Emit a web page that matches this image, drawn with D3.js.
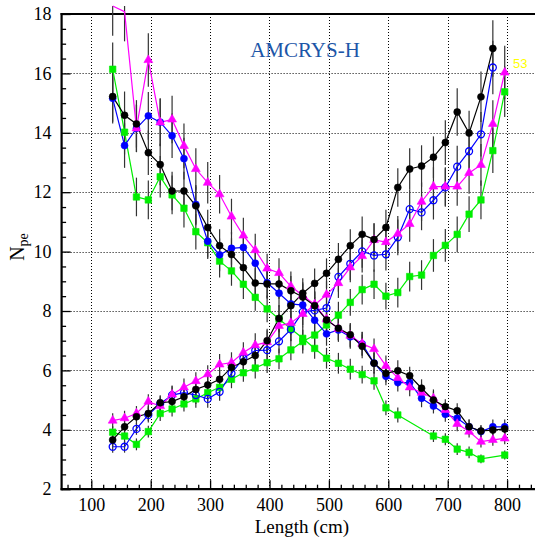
<!DOCTYPE html>
<html><head><meta charset="utf-8">
<script src="https://cdn.jsdelivr.net/npm/d3@7/dist/d3.min.js"></script>
<style>
body{margin:0;background:#fff;} svg{display:block;}
.serif{font-family:"Liberation Serif","Tinos","Times New Roman","DejaVu Serif",serif;}
.sans{font-family:"Liberation Sans","Arimo",Arial,sans-serif;}
</style>
</head><body>
<svg id="c" width="535" height="541"></svg>
<script>
// ---------- data ----------
const lengths = [136,156,176,196,216,236,256,276,296,316,336,356,376,396,416,436,456,476,496,516,536,556,576,596,616,636,656,676,696,716,736,756,776,796];

const blackDec = [15.22,14.59,14.30,13.33,12.93,12.04,12.04,11.54,10.81,10.20,9.90,9.46,8.94,8.91,8.91,8.68,8.47,8.18,7.70,7.42,7.20,6.81,6.24,5.90,5.99,5.82,5.40,5.00,4.78,4.64,4.10,3.96,3.99,4.03];
const blackInc = [3.66,4.10,4.44,4.55,4.91,4.95,5.11,5.36,5.51,5.70,6.10,6.29,6.50,7.00,7.75,8.18,8.60,8.93,9.27,9.74,10.20,10.58,10.41,10.81,12.16,12.78,12.88,13.18,13.67,14.70,13.99,15.21,16.84,null];
const blueDec = [15.16,13.57,14.15,14.57,14.36,13.90,13.13,11.59,10.35,9.89,10.11,10.14,9.61,8.95,8.60,8.24,8.20,7.69,7.23,7.36,7.13,6.89,6.25,5.80,5.59,5.59,5.06,4.80,4.52,4.39,4.10,3.94,4.10,4.10];
const blueInc = [3.43,3.43,4.03,4.50,4.88,5.17,5.25,5.17,5.04,5.28,5.90,6.41,6.67,6.68,6.98,7.38,7.97,8.02,8.10,9.15,9.59,10.01,9.87,9.91,10.48,11.43,11.32,11.73,12.16,12.86,13.38,13.95,16.20,null];
const magentaDec = [18.27,18.08,14.15,16.45,14.35,14.45,13.56,12.78,12.32,11.93,11.18,10.54,10.05,9.43,9.28,8.83,8.52,8.22,7.72,7.40,7.17,6.90,6.72,6.15,5.75,5.43,5.25,5.06,4.67,4.20,3.94,3.60,3.66,3.71];
const magentaInc = [4.31,4.39,4.55,4.95,4.80,5.19,5.43,5.64,5.87,6.20,6.26,6.60,6.85,6.95,7.50,7.60,7.90,8.20,8.55,8.94,9.47,9.85,10.39,10.32,10.60,10.93,11.68,12.19,12.19,12.19,12.65,12.92,14.30,16.03];
const greenDec = [16.14,14.02,11.84,11.74,12.52,11.91,11.46,10.67,10.30,9.68,9.35,8.90,8.46,8.07,7.73,7.40,7.08,6.74,6.41,6.24,6.04,5.86,5.65,4.74,4.50,null,null,3.79,3.68,3.35,3.24,3.02,null,3.15];
const greenInc = [3.92,3.79,3.51,3.94,4.55,4.70,4.87,5.04,5.25,5.43,5.70,5.92,6.08,6.26,6.39,6.69,6.97,7.19,7.53,7.86,8.29,8.72,8.90,8.50,8.62,9.16,9.21,9.87,10.21,10.58,11.26,11.74,13.40,15.38];

const errBlackDec = [0.85,0.8,0.8,0.75,0.7,0.65,0.65,0.65,0.6,0.55,0.55,0.5,0.5,0.5,0.5,0.5,0.45,0.45,0.4,0.4,0.4,0.4,0.35,0.3,0.35,0.3,0.3,0.3,0.25,0.25,0.25,0.2,0.2,0.2];
const errBlackInc = [0.2,0.25,0.25,0.25,0.25,0.25,0.3,0.3,0.3,0.3,0.35,0.35,0.35,0.4,0.45,0.45,0.5,0.5,0.5,0.55,0.55,0.6,0.55,0.6,0.65,0.7,0.7,0.7,0.75,0.8,0.75,0.85,0.95,null];
const errBlueDec = [0.85,0.75,0.8,0.8,0.8,0.75,0.7,0.65,0.55,0.55,0.55,0.55,0.55,0.5,0.45,0.45,0.45,0.4,0.4,0.4,0.4,0.4,0.35,0.3,0.3,0.3,0.3,0.25,0.25,0.25,0.25,0.2,0.25,0.25];
const errBlueInc = [0.2,0.2,0.2,0.25,0.25,0.3,0.3,0.3,0.3,0.3,0.3,0.35,0.35,0.35,0.4,0.4,0.45,0.45,0.45,0.5,0.55,0.55,0.55,0.55,0.6,0.65,0.6,0.65,0.65,0.7,0.75,0.75,0.9,null];
const errMagentaDec = [1.0,1.0,0.8,0.9,0.8,0.8,0.75,0.7,0.7,0.65,0.6,0.6,0.55,0.5,0.5,0.5,0.45,0.45,0.4,0.4,0.4,0.4,0.35,0.35,0.3,0.3,0.3,0.3,0.25,0.25,0.2,0.2,0.2,0.2];
const errMagentaInc = [0.25,0.25,0.25,0.25,0.25,0.3,0.3,0.3,0.3,0.35,0.35,0.35,0.4,0.4,0.4,0.4,0.45,0.45,0.45,0.5,0.5,0.55,0.55,0.55,0.6,0.6,0.65,0.65,0.65,0.65,0.7,0.7,0.8,0.9];
const errGreenDec = [0.9,0.75,0.65,0.65,0.7,0.65,0.65,0.6,0.55,0.55,0.5,0.5,0.45,0.45,0.45,0.4,0.4,0.35,0.35,0.35,0.35,0.3,0.3,0.25,0.25,null,null,0.2,0.2,0.2,0.2,0.15,null,0.15];
const errGreenInc = [0.2,0.2,0.2,0.2,0.25,0.25,0.25,0.3,0.3,0.3,0.3,0.3,0.35,0.35,0.35,0.35,0.4,0.4,0.4,0.45,0.45,0.5,0.5,0.45,0.5,0.5,0.5,0.55,0.55,0.6,0.6,0.65,0.75,0.85];

const xTickValues = [100,200,300,400,500,600,700,800];
const yTickValues = [2,4,6,8,10,12,14,16,18];
const titleText = "AMCRYS-H";
const cornerText = "53";

// ---------- layout ----------
const W = 535, H = 541;
const x = d3.scaleLinear().domain([50, 850]).range([61.6, 536.8]);
const y = d3.scaleLinear().domain([2, 18]).range([489.2, 14]);

const svg = d3.select('#c');
svg.append('rect').attr('width', W).attr('height', H).attr('fill', '#fff');

// grid
const grid = svg.append('g').attr('stroke', '#000').attr('stroke-width', 1).attr('stroke-dasharray', '1,2');
grid.selectAll('line.gx').data(xTickValues).join('line')
  .attr('x1', d => Math.round(x(d)) + 0.5).attr('x2', d => Math.round(x(d)) + 0.5)
  .attr('y1', y(18)).attr('y2', y(2));
grid.selectAll('line.gy').data(yTickValues.filter(v => v > 2 && v < 18)).join('line')
  .attr('y1', d => Math.round(y(d)) + 0.5).attr('y2', d => Math.round(y(d)) + 0.5)
  .attr('x1', x(50)).attr('x2', W);

// axes (inward ticks)
const xMinor = d3.range(60, 850, 20).filter(v => v % 100 !== 0);
const yMinor = d3.range(2.5, 18, 0.5).filter(v => v % 2 !== 0);

const gx = svg.append('g').attr('transform', `translate(0,${y(2)})`);
gx.call(d3.axisBottom(x).tickValues(xTickValues).tickSize(-9).tickPadding(9).tickFormat(d3.format('d')));
gx.append('g').call(d3.axisBottom(x).tickValues(xMinor).tickSize(-4.5).tickFormat(''));
const gy = svg.append('g').attr('transform', `translate(${x(50)},0)`);
gy.call(d3.axisLeft(y).tickValues(yTickValues).tickSize(-9).tickPadding(10).tickFormat(d3.format('d')));
gy.append('g').call(d3.axisLeft(y).tickValues(yMinor).tickSize(-4.5).tickFormat(''));
gx.attr('font-family', null).attr('font-size', null);
gy.attr('font-family', null).attr('font-size', null);
svg.selectAll('.domain').remove();
svg.selectAll('.tick line').attr('stroke', '#000').attr('stroke-width', 1.3);
svg.selectAll('.tick text').attr('class', 'serif').style('font-size', '18px').attr('fill', '#000');

// frame
const frame = svg.append('g').attr('stroke', '#000').attr('stroke-width', 2.2).attr('fill', 'none');
frame.append('line').attr('x1', x(50)).attr('x2', x(50)).attr('y1', y(18) - 1).attr('y2', y(2) + 1);
frame.append('line').attr('x1', x(50) - 1).attr('x2', W).attr('y1', y(2)).attr('y2', y(2));
frame.append('line').attr('x1', x(50) - 1).attr('x2', W).attr('y1', y(18)).attr('y2', y(18));

// series definitions
const series = [
  {vals: greenDec, errs: errGreenDec, color: '#00ee00', marker: 'square', open: false},
  {vals: greenInc, errs: errGreenInc, color: '#00ee00', marker: 'square', open: false},
  {vals: blueDec, errs: errBlueDec, color: '#0000ff', marker: 'circle', open: false},
  {vals: blueInc, errs: errBlueInc, color: '#0000ff', marker: 'circle', open: true},
  {vals: magentaDec, errs: errMagentaDec, color: '#ff00ff', marker: 'triangle', open: false},
  {vals: magentaInc, errs: errMagentaInc, color: '#ff00ff', marker: 'triangle', open: false},
  {vals: blackDec, errs: errBlackDec, color: '#000000', marker: 'circle', open: false},
  {vals: blackInc, errs: errBlackInc, color: '#000000', marker: 'circle', open: false}
];
const pts = s => lengths.map((L, i) => ({L, v: s.vals[i], e: s.errs[i]})).filter(p => p.v != null);

// error bars
const eg = svg.append('g').attr('stroke', '#333').attr('stroke-width', 1.2);
series.forEach(s => {
  eg.selectAll(null).data(pts(s)).join('line')
    .attr('x1', p => x(p.L)).attr('x2', p => x(p.L))
    .attr('y1', p => Math.max(y(p.v + p.e), 6)).attr('y2', p => y(p.v - p.e));
});

// lines
const lineGen = d3.line().x(p => x(p.L)).y(p => y(p.v));
series.forEach(s => {
  svg.append('path').datum(pts(s)).attr('d', lineGen)
    .attr('fill', 'none').attr('stroke', s.color).attr('stroke-width', 1.2);
});

// markers
const symType = {circle: d3.symbolCircle, square: d3.symbolSquare, triangle: d3.symbolTriangle};
const symSize = {circle: 38, square: 42, triangle: 34};
series.forEach(s => {
  const g = svg.append('g');
  g.selectAll('path').data(pts(s).filter(p => p.v <= 18)).join('path')
    .attr('transform', p => `translate(${x(p.L)},${y(p.v)})`)
    .attr('d', d3.symbol().type(symType[s.marker]).size(symSize[s.marker]))
    .attr('fill', s.open ? 'none' : s.color)
    .attr('stroke', s.color).attr('stroke-width', s.open ? 1.3 : 0.6);
});

// texts
svg.append('text').attr('class', 'serif').attr('x', 305).attr('y', 57).attr('text-anchor', 'middle')
  .style('font-size', '21px').attr('fill', '#1c56a8').text(titleText);
svg.append('text').attr('class', 'sans').attr('x', 513).attr('y', 68)
  .style('font-size', '13px').attr('fill', '#ffff00').text(cornerText);
svg.append('text').attr('class', 'serif').attr('x', x(500) - 27).attr('y', 533).attr('text-anchor', 'middle')
  .style('font-size', '19px').attr('fill', '#000').text('Length (cm)');
const yt = svg.append('text').attr('class', 'serif').attr('transform', 'translate(24,247) rotate(-90)').attr('text-anchor', 'middle')
  .style('font-size', '20px').attr('fill', '#000');
yt.append('tspan').text('N');
yt.append('tspan').attr('dy', 4).style('font-size', '14px').text('pe');
</script>
</body></html>
